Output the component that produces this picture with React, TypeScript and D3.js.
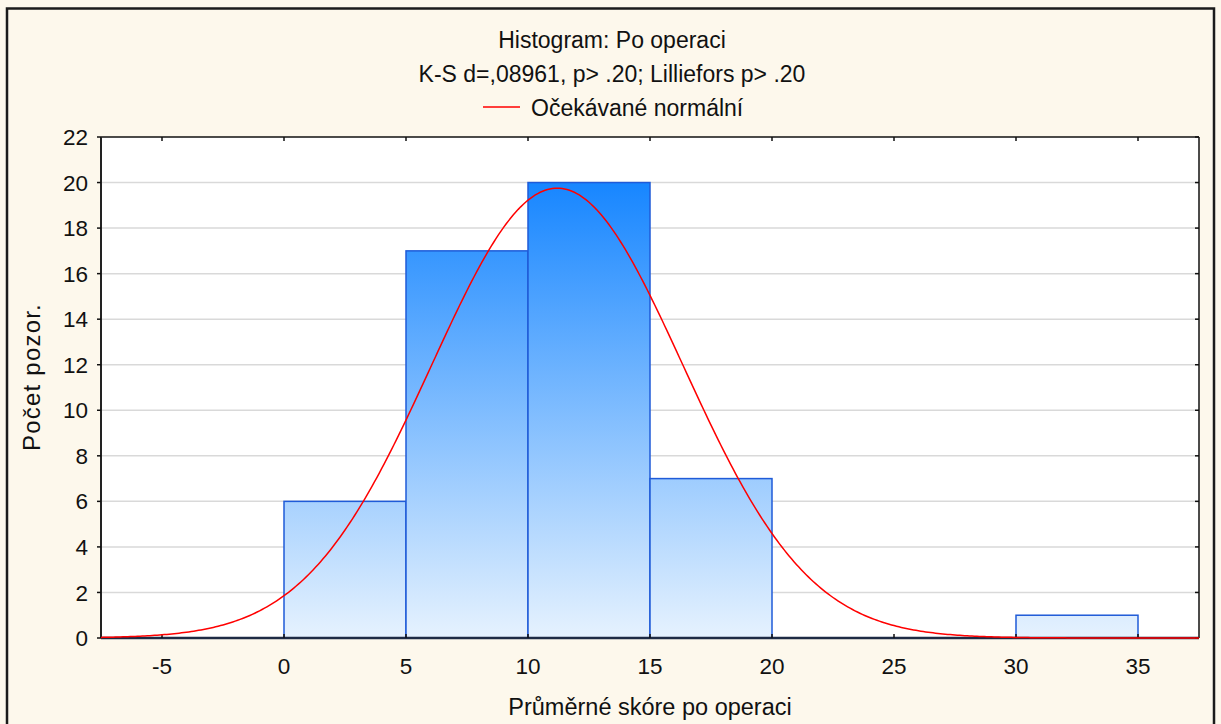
import React, { useRef, useEffect } from 'react';
import * as d3 from 'd3';

// histogram bins (lower edge, upper edge, count)
const binStarts = [0, 5, 10, 15, 30];
const binEnds = [5, 10, 15, 20, 35];
const binCounts = [6, 17, 20, 7, 1];

const xTicks = [-5, 0, 5, 10, 15, 20, 25, 30, 35];
const yTicks = [0, 2, 4, 6, 8, 10, 12, 14, 16, 18, 20, 22];

// fitted normal
const normMean = 11.2;
const normSd = 5.15;
const binWidth = 5;

const titleLines = ['Histogram: Po operaci', 'K-S d=,08961, p> .20; Lilliefors p> .20'];
const legendLabel = 'Očekávané normální';
const xLabel = 'Průměrné skóre po operaci';
const yLabel = 'Počet pozor.';

const W = 1221;
const H = 724;
const FONT = '"Liberation Sans", Arial, sans-serif';

function App() {
  const svgRef = useRef<SVGSVGElement>(null);

  useEffect(() => {
    const root = d3.select(svgRef.current);
    root.selectAll('*').remove();

    const margin = { top: 137, right: 22, bottom: 86, left: 101 };
    const width = W - margin.left - margin.right;
    const height = H - margin.top - margin.bottom;

    // background + outer frame
    root.append('rect').attr('width', W).attr('height', H).attr('fill', '#fdf8ec');
    root.append('rect')
      .attr('x', 7).attr('y', 8.5)
      .attr('width', 1207).attr('height', 740)
      .attr('fill', 'none')
      .attr('stroke', '#1b1b1b')
      .attr('stroke-width', 2.5);

    // titles
    titleLines.forEach((t, i) => {
      root.append('text')
        .attr('x', 612).attr('y', 48 + i * 34)
        .attr('text-anchor', 'middle')
        .style('font-family', FONT).style('font-size', '23px')
        .attr('fill', '#111')
        .text(t);
    });

    // legend
    root.append('line')
      .attr('x1', 483).attr('x2', 520).attr('y1', 107).attr('y2', 107)
      .attr('stroke', '#ff0000').attr('stroke-width', 1.5);
    root.append('text')
      .attr('x', 531).attr('y', 116)
      .style('font-family', FONT).style('font-size', '23px')
      .attr('fill', '#111')
      .text(legendLabel);

    const g = root.append('g').attr('transform', `translate(${margin.left},${margin.top})`);

    const x = d3.scaleLinear().domain([-7.5, 37.5]).range([0, width]);
    const y = d3.scaleLinear().domain([0, 22]).range([height, 0]);

    g.append('rect').attr('width', width).attr('height', height).attr('fill', '#ffffff');

    // gridlines
    g.append('g')
      .selectAll('line')
      .data(yTicks.filter(d => d > 0 && d < 22))
      .enter().append('line')
      .attr('x1', 0).attr('x2', width)
      .attr('y1', d => y(d)).attr('y2', d => y(d))
      .attr('stroke', '#d9d9d9').attr('stroke-width', 1.5);

    // bar gradient, tied to the value scale
    const grad = root.append('defs').append('linearGradient')
      .attr('id', 'bar-grad')
      .attr('gradientUnits', 'userSpaceOnUse')
      .attr('x1', 0).attr('x2', 0)
      .attr('y1', y(20)).attr('y2', y(0));
    grad.append('stop').attr('offset', '0%').attr('stop-color', '#1786ff');
    grad.append('stop').attr('offset', '100%').attr('stop-color', '#e6f2fe');

    const bins = binCounts.map((c, i) => ({ x0: binStarts[i], x1: binEnds[i], count: c }));

    g.selectAll('.bar')
      .data(bins)
      .enter().append('rect')
      .attr('class', 'bar')
      .attr('x', d => x(d.x0))
      .attr('y', d => y(d.count))
      .attr('width', d => x(d.x1) - x(d.x0))
      .attr('height', d => y(0) - y(d.count))
      .attr('fill', 'url(#bar-grad)')
      .attr('stroke', '#1f5bd8')
      .attr('stroke-width', 1.5);

    // axes frame
    g.append('line').attr('x1', 0).attr('x2', width).attr('y1', 0).attr('y2', 0)
      .attr('stroke', '#111').attr('stroke-width', 1.5);
    g.append('line').attr('x1', width).attr('x2', width).attr('y1', 0).attr('y2', height)
      .attr('stroke', '#111').attr('stroke-width', 1.5);
    g.append('line').attr('x1', 0).attr('x2', 0).attr('y1', 0).attr('y2', height)
      .attr('stroke', '#222').attr('stroke-width', 2);
    g.append('line').attr('x1', 0).attr('x2', width).attr('y1', height).attr('y2', height)
      .attr('stroke', '#1e2b44').attr('stroke-width', 2.5);

    // ticks
    const tk = 4;
    xTicks.forEach(v => {
      g.append('line').attr('x1', x(v)).attr('x2', x(v)).attr('y1', 0).attr('y2', tk)
        .attr('stroke', '#111').attr('stroke-width', 1.5);
      g.append('line').attr('x1', x(v)).attr('x2', x(v)).attr('y1', height).attr('y2', height - tk)
        .attr('stroke', '#111').attr('stroke-width', 1.5);
      g.append('text')
        .attr('x', x(v)).attr('y', height + 36)
        .attr('text-anchor', 'middle')
        .style('font-family', FONT).style('font-size', '22.5px')
        .attr('fill', '#111')
        .text(v);
    });
    yTicks.forEach(v => {
      g.append('line').attr('x1', -tk).attr('x2', 0).attr('y1', y(v)).attr('y2', y(v))
        .attr('stroke', '#111').attr('stroke-width', 1.5);
      g.append('line').attr('x1', width - tk).attr('x2', width).attr('y1', y(v)).attr('y2', y(v))
        .attr('stroke', '#111').attr('stroke-width', 1.5);
      g.append('text')
        .attr('x', -13).attr('y', y(v))
        .attr('dy', '0.36em')
        .attr('text-anchor', 'end')
        .style('font-family', FONT).style('font-size', '22.5px')
        .attr('fill', '#111')
        .text(v);
    });

    // expected normal curve
    const scale = binCounts.reduce((a, b) => a + b, 0) * binWidth / (normSd * Math.sqrt(2 * Math.PI));
    const curve = d3.range(-7.5, 37.55, 0.1).map(v => ({
      v,
      f: scale * Math.exp(-0.5 * ((v - normMean) / normSd) ** 2),
    }));
    const line = d3.line<{ v: number; f: number }>()
      .x(d => x(d.v))
      .y(d => y(d.f));
    g.append('path')
      .datum(curve)
      .attr('fill', 'none')
      .attr('stroke', '#ff0000')
      .attr('stroke-width', 1.5)
      .attr('d', line);

    // axis titles
    root.append('text')
      .attr('x', 650).attr('y', 715)
      .attr('text-anchor', 'middle')
      .style('font-family', FONT).style('font-size', '23.5px')
      .attr('fill', '#111')
      .text(xLabel);
    root.append('text')
      .attr('transform', 'translate(40,377) rotate(-90)')
      .attr('text-anchor', 'middle')
      .style('font-family', FONT).style('font-size', '24px')
      .style('letter-spacing', '1.2px')
      .attr('fill', '#111')
      .text(yLabel);
  }, []);

  return (
    <svg ref={svgRef} width={W} height={H}
      style={{ position: 'absolute', left: 0, top: 0, display: 'block' }} />
  );
}

export default App;
